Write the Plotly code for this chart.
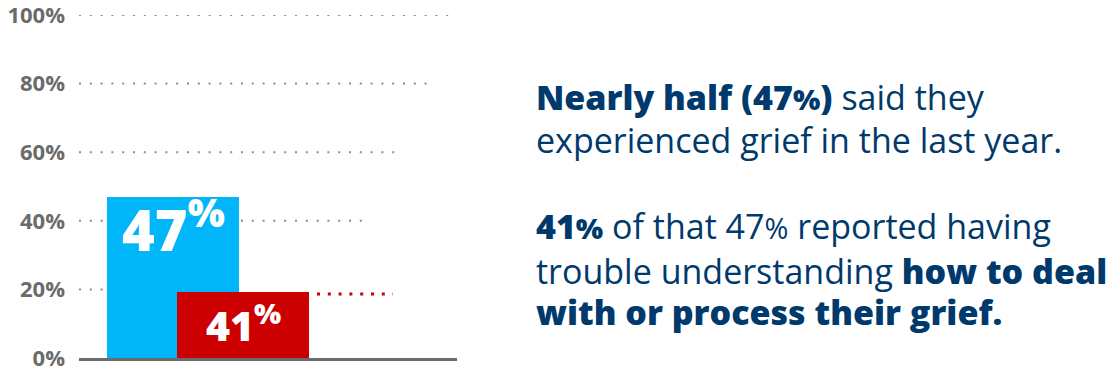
import plotly.graph_objects as go

# ---- data -------------------------------------------------------------
categories = ["Experienced grief in the last year",
              "Of those, had trouble dealing with their grief"]
label_pct = [47, 41]                      # values printed on the bars
# the second bar is 41% *of* the 47% group, so its height is a share of all
bar_heights = [label_pct[0], label_pct[0] * label_pct[1] / 100]

tick_vals = [0, 20, 40, 60, 80, 100]
tick_text = ["0%", "20%", "40%", "60%", "80%", "100%"]

# ---- layout / style constants ------------------------------------------
W, H = 1110, 371
X_LEFT, X_RIGHT = 79, 457            # pixel span of the baseline
Y_ZERO, Y_TOP = 358, 15              # pixel rows of 0% and 100%
X_SPAN = X_RIGHT - X_LEFT

BAR_CENTERS = [94, 164]              # in x-axis units (pixels from baseline start)
BAR_WIDTH = 132
BAR_COLORS = ["#00b6f9", "#cc0000"]

GRID_EXTENT = {100: 378, 80: 348, 60: 316, 40: 288, 20: 25}
LEADER = (238, 314)                  # red dotted leader beside the red bar

NAVY = "#00396c"
GREY = "#6b6b6b"
FONT = "Open Sans"

fig = go.Figure()

for i in range(len(categories)):
    fig.add_trace(go.Bar(
        x=[BAR_CENTERS[i]], y=[bar_heights[i]], width=BAR_WIDTH,
        name=categories[i], marker=dict(color=BAR_COLORS[i], line=dict(width=0)),
        hoverinfo="skip", showlegend=False,
    ))

shapes = []
for v, ext in GRID_EXTENT.items():
    shapes.append(dict(type="line", xref="x", yref="y", x0=0, x1=ext, y0=v, y1=v,
                       layer="below",
                       line=dict(color="#8c8c8c", width=2, dash="2px,8.8px")))
shapes.append(dict(type="line", xref="x", yref="y", x0=LEADER[0], x1=LEADER[1],
                   y0=bar_heights[1] - 0.6, y1=bar_heights[1] - 0.6, layer="below",
                   line=dict(color=BAR_COLORS[1], width=3, dash="3px,7.8px")))

annotations = []
# value labels on the bars
label_sizes = [56, 41]
label_shift = [14, 1]
for i in range(len(categories)):
    annotations.append(dict(
        x=BAR_CENTERS[i], y=bar_heights[i], xref="x", yref="y",
        xanchor="center", yanchor="top", yshift=label_shift[i], showarrow=False,
        text=f"{label_pct[i]}<sup>%</sup>",
        font=dict(family=FONT, size=label_sizes[i], color="white", weight=800),
    ))

# commentary text on the right, one annotation per line
blk = "<span style='font-weight:800'>"
pct = "<span style='font-size:85%'>%</span>"
text_lines = [
    f"{blk}Nearly half (47{pct})</span> said they",
    "experienced grief in the last year.",
    f"{blk}41{pct}</span> of that 47{pct} reported having",
    f"trouble understanding {blk}how to deal</span>",
    f"{blk}with or process their grief.</span>",
]
line_centers = [97, 140, 226, 271, 312]   # pixel rows
for txt, yc in zip(text_lines, line_centers):
    annotations.append(dict(x=534 / W, y=1 - yc / H, xref="paper", yref="paper",
                            xanchor="left", yanchor="middle", align="left",
                            showarrow=False, text=txt,
                            font=dict(family=FONT, size=34, color=NAVY)))

fig.update_layout(
    width=W, height=H,
    margin=dict(l=0, r=0, t=0, b=0),
    paper_bgcolor="white", plot_bgcolor="white",
    barmode="overlay", bargap=0,
    shapes=shapes, annotations=annotations,
    xaxis=dict(domain=[X_LEFT / W, X_RIGHT / W], range=[0, X_SPAN],
               showgrid=False, zeroline=False, showticklabels=False, ticks="",
               showline=True, linecolor=GREY, linewidth=3, fixedrange=True),
    yaxis=dict(domain=[(H - Y_ZERO) / H, (H - Y_TOP) / H], range=[0, 100],
               tickvals=tick_vals, ticktext=tick_text, showgrid=False,
               zeroline=False, showline=False, ticks="", ticklabelstandoff=13,
               ticklabeloverflow="allow", automargin=False, fixedrange=True,
               tickfont=dict(family=FONT, size=22, color=GREY, weight=700)),
)

fig.write_html("out.html")
